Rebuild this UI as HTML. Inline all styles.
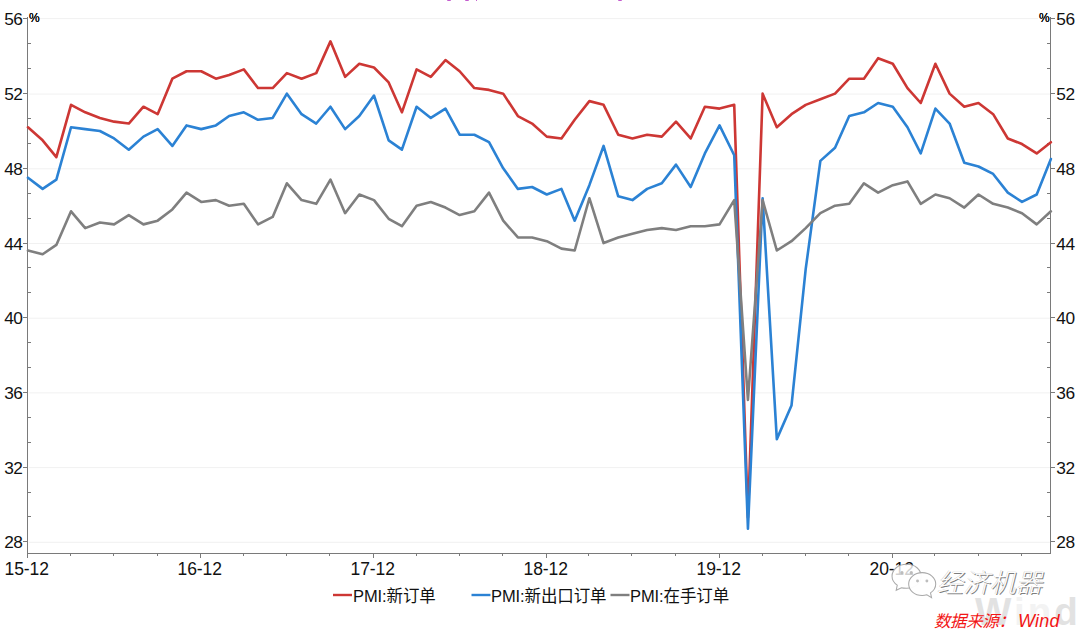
<!DOCTYPE html>
<html lang="zh"><head><meta charset="utf-8"><title>PMI</title>
<style>
html,body{margin:0;padding:0;background:#fff;}
body{width:1080px;height:630px;position:relative;overflow:hidden;font-family:"Liberation Sans","Noto Sans CJK SC",sans-serif;color:#111;}
.t{position:absolute;white-space:nowrap;line-height:1;}
.yl{font-size:17.3px;width:24px;text-align:right;left:-1.6px;letter-spacing:-0.5px;}
.yr{font-size:17.3px;left:1056.3px;letter-spacing:-0.5px;}
.xl{font-size:17.5px;width:60px;text-align:center;top:560.5px;letter-spacing:-0.1px;}
.pc{font-size:12px;letter-spacing:-0.3px;color:#000;text-shadow:0 0 0.2px #000;}
.lg{font-size:16.5px;top:587.5px;letter-spacing:-0.1px;}
.src{color:#f21616;font-style:italic;font-size:16.5px;left:934px;top:611.5px;letter-spacing:-0.4px;}
.src b{font-weight:normal;font-size:18px;margin-left:3.5px;letter-spacing:0.2px;}
.wm{color:#fff;font-size:26px;font-weight:300;font-style:italic;left:937px;top:569.5px;text-shadow:1px 1px 0.5px #7e7e7e,-0.4px -0.4px 0.5px #c0c0c0;letter-spacing:0.3px;}
.wind{color:#e2e2e2;font-weight:bold;font-size:38.5px;left:975px;top:593px;letter-spacing:3px;}
.wind i{font-style:normal;color:#f3f3f3;}
.pp{position:absolute;background:#c45ccf;top:0;height:1.2px;border-radius:0 0 1px 1px;}
</style></head><body>

<div class="t wind">W<i>in</i>d</div>
<svg width="1080" height="630" viewBox="0 0 1080 630" style="position:absolute;left:0;top:0">
<line x1="28.9" y1="542.30" x2="1049.9" y2="542.30" stroke="#f1f1f1" stroke-width="1"/>
<line x1="28.9" y1="467.60" x2="1049.9" y2="467.60" stroke="#f1f1f1" stroke-width="1"/>
<line x1="28.9" y1="392.90" x2="1049.9" y2="392.90" stroke="#f1f1f1" stroke-width="1"/>
<line x1="28.9" y1="318.20" x2="1049.9" y2="318.20" stroke="#f1f1f1" stroke-width="1"/>
<line x1="28.9" y1="243.50" x2="1049.9" y2="243.50" stroke="#f1f1f1" stroke-width="1"/>
<line x1="28.9" y1="168.80" x2="1049.9" y2="168.80" stroke="#f1f1f1" stroke-width="1"/>
<line x1="28.9" y1="94.10" x2="1049.9" y2="94.10" stroke="#f1f1f1" stroke-width="1"/>
<line x1="40.0" y1="18.60" x2="1038.0" y2="18.60" stroke="#f1f1f1" stroke-width="1"/>
<g stroke="#7a7a7a" stroke-width="1" shape-rendering="crispEdges">
<line x1="27.5" y1="17" x2="27.5" y2="554"/>
<line x1="1050.5" y1="17" x2="1050.5" y2="554"/>
<line x1="27" y1="553.5" x2="1051" y2="553.5"/>
<line x1="23" y1="18.5" x2="27" y2="18.5"/>
<line x1="1051" y1="18.5" x2="1055" y2="18.5"/>
<line x1="28" y1="43.5" x2="31" y2="43.5"/>
<line x1="1047" y1="43.5" x2="1050" y2="43.5"/>
<line x1="28" y1="68.5" x2="31" y2="68.5"/>
<line x1="1047" y1="68.5" x2="1050" y2="68.5"/>
<line x1="23" y1="93.5" x2="27" y2="93.5"/>
<line x1="1051" y1="93.5" x2="1055" y2="93.5"/>
<line x1="28" y1="118.5" x2="31" y2="118.5"/>
<line x1="1047" y1="118.5" x2="1050" y2="118.5"/>
<line x1="28" y1="143.5" x2="31" y2="143.5"/>
<line x1="1047" y1="143.5" x2="1050" y2="143.5"/>
<line x1="23" y1="168.5" x2="27" y2="168.5"/>
<line x1="1051" y1="168.5" x2="1055" y2="168.5"/>
<line x1="28" y1="193.5" x2="31" y2="193.5"/>
<line x1="1047" y1="193.5" x2="1050" y2="193.5"/>
<line x1="28" y1="218.5" x2="31" y2="218.5"/>
<line x1="1047" y1="218.5" x2="1050" y2="218.5"/>
<line x1="23" y1="243.5" x2="27" y2="243.5"/>
<line x1="1051" y1="243.5" x2="1055" y2="243.5"/>
<line x1="28" y1="267.5" x2="31" y2="267.5"/>
<line x1="1047" y1="267.5" x2="1050" y2="267.5"/>
<line x1="28" y1="292.5" x2="31" y2="292.5"/>
<line x1="1047" y1="292.5" x2="1050" y2="292.5"/>
<line x1="23" y1="317.5" x2="27" y2="317.5"/>
<line x1="1051" y1="317.5" x2="1055" y2="317.5"/>
<line x1="28" y1="342.5" x2="31" y2="342.5"/>
<line x1="1047" y1="342.5" x2="1050" y2="342.5"/>
<line x1="28" y1="367.5" x2="31" y2="367.5"/>
<line x1="1047" y1="367.5" x2="1050" y2="367.5"/>
<line x1="23" y1="392.5" x2="27" y2="392.5"/>
<line x1="1051" y1="392.5" x2="1055" y2="392.5"/>
<line x1="28" y1="417.5" x2="31" y2="417.5"/>
<line x1="1047" y1="417.5" x2="1050" y2="417.5"/>
<line x1="28" y1="442.5" x2="31" y2="442.5"/>
<line x1="1047" y1="442.5" x2="1050" y2="442.5"/>
<line x1="23" y1="467.5" x2="27" y2="467.5"/>
<line x1="1051" y1="467.5" x2="1055" y2="467.5"/>
<line x1="28" y1="492.5" x2="31" y2="492.5"/>
<line x1="1047" y1="492.5" x2="1050" y2="492.5"/>
<line x1="28" y1="516.5" x2="31" y2="516.5"/>
<line x1="1047" y1="516.5" x2="1050" y2="516.5"/>
<line x1="23" y1="541.5" x2="27" y2="541.5"/>
<line x1="1051" y1="541.5" x2="1055" y2="541.5"/>
<line x1="27.5" y1="554" x2="27.5" y2="558"/>
<line x1="70.5" y1="554" x2="70.5" y2="556"/>
<line x1="113.5" y1="554" x2="113.5" y2="556"/>
<line x1="157.5" y1="554" x2="157.5" y2="556"/>
<line x1="200.5" y1="554" x2="200.5" y2="558"/>
<line x1="243.5" y1="554" x2="243.5" y2="556"/>
<line x1="286.5" y1="554" x2="286.5" y2="556"/>
<line x1="329.5" y1="554" x2="329.5" y2="556"/>
<line x1="373.5" y1="554" x2="373.5" y2="558"/>
<line x1="416.5" y1="554" x2="416.5" y2="556"/>
<line x1="459.5" y1="554" x2="459.5" y2="556"/>
<line x1="502.5" y1="554" x2="502.5" y2="556"/>
<line x1="546.5" y1="554" x2="546.5" y2="558"/>
<line x1="588.5" y1="554" x2="588.5" y2="556"/>
<line x1="631.5" y1="554" x2="631.5" y2="556"/>
<line x1="675.5" y1="554" x2="675.5" y2="556"/>
<line x1="719.5" y1="554" x2="719.5" y2="558"/>
<line x1="762.5" y1="554" x2="762.5" y2="556"/>
<line x1="805.5" y1="554" x2="805.5" y2="556"/>
<line x1="848.5" y1="554" x2="848.5" y2="556"/>
<line x1="892.5" y1="554" x2="892.5" y2="558"/>
<line x1="934.5" y1="554" x2="934.5" y2="556"/>
<line x1="978.5" y1="554" x2="978.5" y2="556"/>
<line x1="1021.5" y1="554" x2="1021.5" y2="556"/>
</g>
<g fill="none" stroke-width="2.6" stroke-linejoin="round" stroke-linecap="round">
<path d="M27.95,127.26 L42.62,140.34 L56.35,157.14 L71.03,104.86 L85.23,112.33 L99.90,117.93 L114.10,121.66 L128.78,123.53 L143.45,106.72 L157.65,114.19 L172.33,78.71 L186.53,71.24 L201.20,71.24 L215.88,78.71 L229.13,74.97 L243.81,69.37 L258.01,88.05 L272.68,88.05 L286.88,73.11 L301.56,78.71 L316.23,73.11 L330.43,41.36 L345.11,76.84 L359.31,63.77 L373.98,67.51 L388.66,82.44 L401.91,112.33 L416.59,69.37 L430.79,76.84 L445.46,60.04 L459.66,71.24 L474.34,88.05 L489.01,89.91 L503.21,93.65 L517.89,116.06 L532.09,123.53 L546.76,136.60 L561.44,138.47 L574.69,119.79 L589.37,101.12 L603.57,104.86 L618.24,134.74 L632.44,138.47 L647.12,134.74 L661.79,136.60 L675.99,121.66 L690.67,138.47 L704.87,106.72 L719.54,108.59 L734.22,104.86 L747.94,517.57 L762.62,93.65 L776.82,127.26 L791.49,114.19 L805.69,104.86 L820.37,99.25 L835.04,93.65 L849.24,78.71 L863.92,78.71 L878.12,58.17 L892.79,63.77 L907.47,88.05 L920.72,102.99 L935.40,63.77 L949.60,93.65 L964.27,106.72 L978.47,102.99 L993.15,114.19 L1007.82,138.47 L1022.02,144.07 L1036.70,153.41 L1050.90,142.21" stroke="#cd3734"/>
<path d="M27.95,177.69 L42.62,188.89 L56.35,179.56 L71.03,127.26 L85.23,129.13 L99.90,131.00 L114.10,138.47 L128.78,149.67 L143.45,136.60 L157.65,129.13 L172.33,145.94 L186.53,125.40 L201.20,129.13 L215.88,125.40 L229.13,116.06 L243.81,112.33 L258.01,119.79 L272.68,117.93 L286.88,93.65 L301.56,114.19 L316.23,123.53 L330.43,106.72 L345.11,129.13 L359.31,116.06 L373.98,95.52 L388.66,140.34 L401.91,149.67 L416.59,106.72 L430.79,117.93 L445.46,108.59 L459.66,134.74 L474.34,134.74 L489.01,142.21 L503.21,168.35 L517.89,188.89 L532.09,187.03 L546.76,194.49 L561.44,188.89 L574.69,220.64 L589.37,185.16 L603.57,145.94 L618.24,196.36 L632.44,200.10 L647.12,188.89 L661.79,183.29 L675.99,164.61 L690.67,187.03 L704.87,153.41 L719.54,125.40 L734.22,155.28 L747.94,528.78 L762.62,198.23 L776.82,439.14 L791.49,405.52 L805.69,269.19 L820.37,160.88 L835.04,147.81 L849.24,116.06 L863.92,112.33 L878.12,102.99 L892.79,106.72 L907.47,127.26 L920.72,153.41 L935.40,108.59 L949.60,123.53 L964.27,162.75 L978.47,166.48 L993.15,173.95 L1007.82,192.63 L1022.02,201.96 L1036.70,194.49 L1050.90,159.01" stroke="#2b82d4"/>
<path d="M27.95,250.52 L42.62,254.26 L56.35,244.92 L71.03,211.30 L85.23,228.11 L99.90,222.51 L114.10,224.37 L128.78,215.04 L143.45,224.37 L157.65,220.64 L172.33,209.44 L186.53,192.63 L201.20,201.96 L215.88,200.10 L229.13,205.70 L243.81,203.83 L258.01,224.37 L272.68,216.91 L286.88,183.29 L301.56,200.10 L316.23,203.83 L330.43,179.56 L345.11,213.17 L359.31,194.49 L373.98,200.10 L388.66,218.77 L401.91,226.24 L416.59,205.70 L430.79,201.96 L445.46,207.57 L459.66,215.04 L474.34,211.30 L489.01,192.63 L503.21,220.64 L517.89,237.45 L532.09,237.45 L546.76,241.18 L561.44,248.65 L574.69,250.52 L589.37,198.23 L603.57,243.05 L618.24,237.45 L632.44,233.71 L647.12,229.98 L661.79,228.11 L675.99,229.98 L690.67,226.24 L704.87,226.24 L719.54,224.37 L734.22,200.10 L747.94,399.92 L762.62,200.10 L776.82,250.52 L791.49,241.18 L805.69,228.11 L820.37,213.17 L835.04,205.70 L849.24,203.83 L863.92,183.29 L878.12,192.63 L892.79,185.16 L907.47,181.42 L920.72,203.83 L935.40,194.49 L949.60,198.23 L964.27,207.57 L978.47,194.49 L993.15,203.83 L1007.82,207.57 L1022.02,213.17 L1036.70,224.37 L1050.90,211.30" stroke="#7f7f7f"/>
</g>
<g stroke-width="2.4" fill="none">
<line x1="333" y1="595" x2="352" y2="595" stroke="#cd3734"/>
<line x1="471.5" y1="595" x2="490.5" y2="595" stroke="#2b82d4"/>
<line x1="610.5" y1="595" x2="629.5" y2="595" stroke="#7f7f7f"/>
</g>
</svg>
<div class="t yl" style="top:534.0px">28</div>
<div class="t yr" style="top:534.0px">28</div>
<div class="t yl" style="top:460.0px">32</div>
<div class="t yr" style="top:460.0px">32</div>
<div class="t yl" style="top:385.0px">36</div>
<div class="t yr" style="top:385.0px">36</div>
<div class="t yl" style="top:310.0px">40</div>
<div class="t yr" style="top:310.0px">40</div>
<div class="t yl" style="top:236.0px">44</div>
<div class="t yr" style="top:236.0px">44</div>
<div class="t yl" style="top:161.0px">48</div>
<div class="t yr" style="top:161.0px">48</div>
<div class="t yl" style="top:86.0px">52</div>
<div class="t yr" style="top:86.0px">52</div>
<div class="t yl" style="top:11.0px">56</div>
<div class="t yr" style="top:11.0px">56</div>
<div class="t xl" style="left:-3.3px">15-12</div>
<div class="t xl" style="left:169.7px">16-12</div>
<div class="t xl" style="left:342.7px">17-12</div>
<div class="t xl" style="left:515.7px">18-12</div>
<div class="t xl" style="left:688.7px">19-12</div>
<div class="t xl" style="left:861.7px">20-12</div>
<div class="t pc" style="left:29px;top:12px">%</div>
<div class="t pc" style="left:1039px;top:12px">%</div>
<div class="t lg" style="left:353px">PMI:新订单</div>
<div class="t lg" style="left:491px">PMI:新出口订单</div>
<div class="t lg" style="left:630px">PMI:在手订单</div>
<svg width="52" height="42" viewBox="0 0 50 40" style="position:absolute;left:890.5px;top:561px;overflow:visible">
<g fill="#fff" stroke="#a9a9a9" stroke-width="1">
<path fill-opacity="0.8" d="M15 3 C7 3 1 8 1 14.5 C1 18 3 21 6 23 L5 28 L10 25.5 C11.5 26 13 26 15 26 C23 26 29 21 29 14.5 C29 8 23 3 15 3 Z"/>
<path fill-opacity="0.96" d="M30 11 C22.5 11 17 16 17 22 C17 28 22.5 33 30 33 C31.5 33 33 32.8 34.5 32.3 L39 35 L38 30.5 C41 28.5 43 25.5 43 22 C43 16 37.5 11 30 11 Z"/>
</g>
<g fill="#bdbdbd"><circle cx="10.5" cy="11" r="1.6"/><circle cx="19.5" cy="11" r="1.6"/><circle cx="25.5" cy="19" r="1.4"/><circle cx="34.5" cy="19" r="1.4"/></g>
</svg>
<div class="t wm">经济机器</div>
<div class="t src">数据来源：<b>Wind</b></div>
<div class="pp" style="left:446.5px;width:4.0px"></div>
<div class="pp" style="left:464.5px;width:4.0px"></div>
<div class="pp" style="left:475.5px;width:1.5px"></div>
<div class="pp" style="left:618.0px;width:4.0px"></div>
</body></html>
